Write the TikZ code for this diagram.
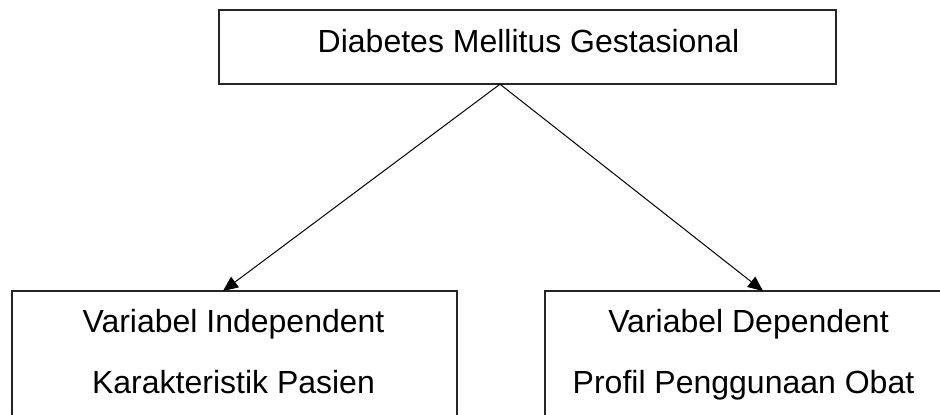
\documentclass[tikz,border=0pt]{standalone}
\usepackage{fontspec}
\setmainfont{Liberation Sans}
\usetikzlibrary{arrows.meta,calc}
\begin{document}
\begin{tikzpicture}[x=1pt,y=-1pt,
  boxstyle/.style={draw=black!85,line width=1.3pt},
  lbl/.style={inner sep=0pt,anchor=base,font=\fontsize{32}{38}\selectfont},
  conn/.style={line width=1pt,-{Triangle[length=15pt,width=13pt]}}]
\clip (0,0) rectangle (940,415);
\fill[white] (0,0) rectangle (940,415);
% boxes
\draw[boxstyle] (219,10) rectangle (836,84);
\draw[boxstyle] (12,430) -- (12,291) -- (457,291) -- (457,430);
\draw[boxstyle] (545,430) -- (545,291) -- (960,291);
% named anchors
\node[inner sep=0pt,minimum width=617pt,minimum height=74pt] (top) at (527.5,47) {};
\node[inner sep=0pt,minimum width=445pt,minimum height=10pt,anchor=north] (left) at (234.5,291) {};
\node[inner sep=0pt,minimum width=410pt,minimum height=10pt,anchor=north] (right) at (750,291) {};
\coordinate (apex) at ($(top.south)+(-27.5,0)$);
\coordinate (lend) at ($(left.north)+(-11.5,0)$);
\coordinate (rend) at ($(right.north)+(13,0)$);
% texts
\node[lbl] (t1) at (528.5,52) {Diabetes Mellitus Gestasional};
\node[lbl] (t2) at (233.5,332) {Variabel Independent};
\node[lbl] (t3) at (233.5,393) {Karakteristik Pasien};
\node[lbl] (t4) at (748.5,332) {Variabel Dependent};
\node[lbl] (t5) at (743.5,393) {Profil Penggunaan Obat};
% connectors
\draw[conn] (apex) -- (lend);
\draw[conn] (apex) -- (rend);
\end{tikzpicture}
\end{document}
